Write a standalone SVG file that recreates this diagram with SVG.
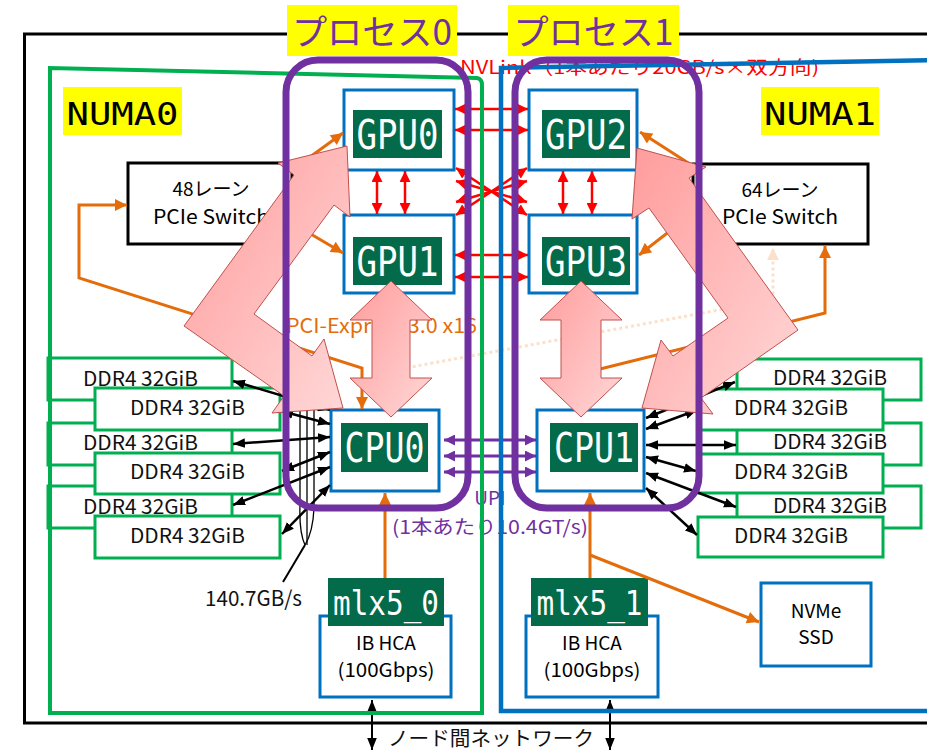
<svg xmlns="http://www.w3.org/2000/svg" width="927" height="752" viewBox="0 0 927 752">
<style>
.t{font-family:"Noto Sans CJK JP","Noto Sans",sans-serif}
.m{font-family:"DejaVu Sans Mono","Liberation Mono",monospace}
.box{fill:#fff;stroke:#0070c0;stroke-width:3}
.lbl{fill:#036b4a}
.lt{fill:#fff;text-anchor:middle;font-size:40px}
.ddr{fill:#fff;stroke:#00b050;stroke-width:3}
.dt{font-size:20px;fill:#111}
.sw{fill:#fff;stroke:#000;stroke-width:3}
.or{fill:none;stroke:#e46c0a;stroke-width:3}
.rd{fill:none;stroke:#f00;stroke-width:2.5;marker-start:url(#ar);marker-end:url(#ar)}
.bk{fill:none;stroke:#000;stroke-width:2.5;marker-start:url(#ab);marker-end:url(#ab)}
.pu{fill:none;stroke:#7030a0;stroke-width:3;marker-start:url(#ap);marker-end:url(#ap)}
.pink{fill:url(#pg);stroke:#c0504d;stroke-width:1}
.proc{fill:none;stroke:#7030a0;stroke-width:7}
.yl{fill:#ff0}
</style>
<defs>
<marker id="ar" viewBox="0 0 10 10" refX="10" refY="5" markerUnits="userSpaceOnUse" markerWidth="11" markerHeight="11" orient="auto-start-reverse"><path d="M0,0L10,5L0,10z" fill="#f00"/></marker>
<marker id="ab" viewBox="0 0 10 8" refX="10" refY="4" markerUnits="userSpaceOnUse" markerWidth="12" markerHeight="10" orient="auto-start-reverse"><path d="M0,0L10,4L0,8z" fill="#000"/></marker>
<marker id="ap" viewBox="0 0 10 10" refX="10" refY="5" markerUnits="userSpaceOnUse" markerWidth="12" markerHeight="11" orient="auto-start-reverse"><path d="M0,0L10,5L0,10z" fill="#7030a0"/></marker>
<marker id="ao" viewBox="0 0 10 10" refX="10" refY="5" markerUnits="userSpaceOnUse" markerWidth="13" markerHeight="12" orient="auto-start-reverse"><path d="M0,0L10,5L0,10z" fill="#e46c0a"/></marker>
<marker id="aq" viewBox="0 0 10 10" refX="10" refY="5" markerUnits="userSpaceOnUse" markerWidth="13" markerHeight="12" orient="auto-start-reverse"><path d="M0,0L10,5L0,10z" fill="#fbe0cc"/></marker>
<linearGradient id="pg" x1="0" y1="0" x2="1" y2="1"><stop offset="0" stop-color="#ff9c9c"/><stop offset="1" stop-color="#ffd8d8"/></linearGradient>
</defs>
<rect width="927" height="752" fill="#fff"/>
<g id="frame"><rect x="24.5" y="34" width="930" height="689" fill="none" stroke="#000" stroke-width="3"/></g>
<g id="nvlink-label"><text class="t" x="460" y="74" font-size="18" fill="#f00" textLength="359" lengthAdjust="spacingAndGlyphs">NVLink（1本あたり20GB/s×双方向)</text></g>

<g id="ddr-left">
<rect class="ddr" x="48" y="358" width="184" height="42"/><text class="t dt" x="83" y="386" textLength="115" lengthAdjust="spacingAndGlyphs">DDR4 32GiB</text>
<rect class="ddr" x="48" y="423" width="184" height="42"/><text class="t dt" x="83" y="450" textLength="115" lengthAdjust="spacingAndGlyphs">DDR4 32GiB</text>
<rect class="ddr" x="48" y="486" width="184" height="42"/><text class="t dt" x="83" y="514" textLength="115" lengthAdjust="spacingAndGlyphs">DDR4 32GiB</text>
<rect class="ddr" x="95" y="388" width="185" height="42"/><text class="t dt" x="130" y="415" textLength="115" lengthAdjust="spacingAndGlyphs">DDR4 32GiB</text>
<rect class="ddr" x="95" y="453" width="185" height="41"/><text class="t dt" x="130" y="479" textLength="115" lengthAdjust="spacingAndGlyphs">DDR4 32GiB</text>
<rect class="ddr" x="95" y="516" width="185" height="42"/><text class="t dt" x="130" y="543" textLength="115" lengthAdjust="spacingAndGlyphs">DDR4 32GiB</text>
</g>
<g id="ddr-right">
<rect class="ddr" x="737" y="359" width="184" height="41"/><text class="t dt" x="773" y="385" textLength="114" lengthAdjust="spacingAndGlyphs">DDR4 32GiB</text>
<rect class="ddr" x="737" y="423" width="184" height="42"/><text class="t dt" x="773" y="449" textLength="114" lengthAdjust="spacingAndGlyphs">DDR4 32GiB</text>
<rect class="ddr" x="737" y="486" width="184" height="42"/><text class="t dt" x="773" y="513" textLength="114" lengthAdjust="spacingAndGlyphs">DDR4 32GiB</text>
<rect class="ddr" x="698" y="389" width="185" height="41"/><text class="t dt" x="734" y="415" textLength="114" lengthAdjust="spacingAndGlyphs">DDR4 32GiB</text>
<rect class="ddr" x="698" y="454" width="185" height="39"/><text class="t dt" x="734" y="479" textLength="114" lengthAdjust="spacingAndGlyphs">DDR4 32GiB</text>
<rect class="ddr" x="698" y="517" width="185" height="40"/><text class="t dt" x="734" y="543" textLength="114" lengthAdjust="spacingAndGlyphs">DDR4 32GiB</text>
</g>

<g id="switch0"><rect class="sw" x="128" y="163" width="164" height="81"/>
<text class="t" x="211" y="196" font-size="19" text-anchor="middle">48レーン</text>
<text class="t" x="211" y="224" font-size="20" text-anchor="middle" textLength="116" lengthAdjust="spacingAndGlyphs">PCIe Switch</text></g>
<g id="switch1"><rect class="sw" x="693" y="164" width="175" height="80"/>
<text class="t" x="780" y="197" font-size="19" text-anchor="middle">64レーン</text>
<text class="t" x="780" y="224" font-size="20" text-anchor="middle" textLength="116" lengthAdjust="spacingAndGlyphs">PCIe Switch</text></g>

<g id="gpu0"><rect class="box" x="344" y="90" width="110" height="80"/><rect class="lbl" x="353" y="110" width="89" height="48"/><text class="m lt" x="397.5" y="148.5" textLength="82" lengthAdjust="spacingAndGlyphs">GPU0</text></g>
<g id="gpu1"><rect class="box" x="344" y="215" width="110" height="78"/><rect class="lbl" x="353" y="237" width="89" height="48"/><text class="m lt" x="397.5" y="275.5" textLength="82" lengthAdjust="spacingAndGlyphs">GPU1</text></g>
<g id="gpu2"><rect class="box" x="529" y="90" width="108" height="80"/><rect class="lbl" x="542" y="110" width="88" height="48"/><text class="m lt" x="586" y="148.5" textLength="82" lengthAdjust="spacingAndGlyphs">GPU2</text></g>
<g id="gpu3"><rect class="box" x="529" y="215" width="108" height="78"/><rect class="lbl" x="542" y="237" width="88" height="48"/><text class="m lt" x="586" y="275.5" textLength="82" lengthAdjust="spacingAndGlyphs">GPU3</text></g>
<g id="cpu0"><rect class="box" x="331" y="410" width="108" height="81"/><rect class="lbl" x="341" y="423" width="87" height="49"/><text class="m lt" x="384.5" y="462" textLength="80" lengthAdjust="spacingAndGlyphs">CPU0</text></g>
<g id="cpu1"><rect class="box" x="537" y="410" width="107" height="81"/><rect class="lbl" x="550" y="423" width="88" height="49"/><text class="m lt" x="594" y="462" textLength="80" lengthAdjust="spacingAndGlyphs">CPU1</text></g>
<g id="mlx5_0"><rect class="box" x="320" y="616" width="131" height="81"/><rect class="lbl" x="328" y="578" width="116" height="48"/><text class="m" x="386" y="615" font-size="34" fill="#fff" text-anchor="middle" textLength="106" lengthAdjust="spacingAndGlyphs">mlx5_0</text>
<text class="t" x="386" y="650" font-size="19" text-anchor="middle">IB HCA</text><text class="t" x="386" y="677" font-size="19" text-anchor="middle" textLength="97" lengthAdjust="spacingAndGlyphs">(100Gbps)</text></g>
<g id="mlx5_1"><rect class="box" x="526" y="616" width="132" height="81"/><rect class="lbl" x="531" y="578" width="117" height="48"/><text class="m" x="589.5" y="615" font-size="34" fill="#fff" text-anchor="middle" textLength="106" lengthAdjust="spacingAndGlyphs">mlx5_1</text>
<text class="t" x="592" y="650" font-size="19" text-anchor="middle">IB HCA</text><text class="t" x="592" y="677" font-size="19" text-anchor="middle" textLength="97" lengthAdjust="spacingAndGlyphs">(100Gbps)</text></g>
<g id="nvme"><rect class="box" x="761" y="583" width="110" height="83"/><text class="t" x="816" y="618" font-size="19" text-anchor="middle">NVMe</text><text class="t" x="816" y="644" font-size="19" text-anchor="middle">SSD</text></g>

<g id="labels">
<text class="t" x="286" y="333" font-size="20" fill="#e46c0a" textLength="191" lengthAdjust="spacingAndGlyphs">PCI-Express 3.0 x16</text>
<text class="t" x="490" y="505" font-size="19" fill="#7030a0" text-anchor="middle">UPI</text>
<text class="t" x="392" y="534" font-size="19" fill="#7030a0" textLength="196" lengthAdjust="spacingAndGlyphs">(1本あたり10.4GT/s)</text>
<text class="t" x="205" y="606" font-size="21" fill="#111" textLength="97" lengthAdjust="spacingAndGlyphs">140.7GB/s</text>
<text class="t" x="388" y="746" font-size="20" fill="#111" textLength="206" lengthAdjust="spacingAndGlyphs">ノード間ネットワーク</text>
</g>

<g id="connectors">
<path class="or" d="M362,409 L362,368 L79,278 L79,205 L127,205" marker-start="url(#ao)" marker-end="url(#ao)"/>
<path class="or" d="M292,170 L343,133" marker-end="url(#ao)"/>
<path class="or" d="M292,223 L343,253" marker-end="url(#ao)"/>
<path class="or" d="M693,166 L640,132" marker-end="url(#ao)"/>
<path class="or" d="M693,213 L639,255" marker-end="url(#ao)"/>
<path class="or" d="M588,372 L825,313 L825,246" marker-end="url(#ao)"/>
<path d="M395,370 L773,300 L773,248" fill="none" stroke="#fbe0cc" stroke-width="3" stroke-dasharray="3,3" marker-end="url(#aq)"/>
<path class="or" d="M385,578 L385,493" marker-end="url(#ao)"/>
<path class="or" d="M590,578 L590,493" marker-end="url(#ao)"/>
<path class="or" d="M590,555 L759,622" marker-end="url(#ao)"/>
<path class="rd" d="M455,109 L528,109"/>
<path class="rd" d="M455,130 L528,130"/>
<path class="rd" d="M455,255 L528,255"/>
<path class="rd" d="M455,277 L528,277"/>
<path class="rd" d="M377,171 L377,214"/>
<path class="rd" d="M405,171 L405,214"/>
<path class="rd" d="M563,171 L563,214"/>
<path class="rd" d="M592,171 L592,214"/>
<path class="rd" d="M456,168 L527,215"/>
<path class="rd" d="M456,215 L527,168"/>
<path class="rd" d="M456,181 L527,202"/>
<path class="rd" d="M456,202 L527,181"/>
<path class="pu" d="M444,440 L536,440"/>
<path class="pu" d="M444,456 L536,456"/>
<path class="pu" d="M444,472 L536,472"/>
<path class="bk" d="M233,381 L330,410"/>
<path class="bk" d="M281,411 L330,424"/>
<path class="bk" d="M233,444 L330,437"/>
<path class="bk" d="M282,471 L330,452"/>
<path class="bk" d="M233,505 L330,467"/>
<path class="bk" d="M282,534 L330,485"/>
<path class="bk" d="M646,418 L735,382"/>
<path class="bk" d="M646,429 L697,410"/>
<path class="bk" d="M646,445 L736,445"/>
<path class="bk" d="M646,457 L696,471"/>
<path class="bk" d="M646,473 L736,507"/>
<path class="bk" d="M646,488 L697,535"/>
<g fill="none" stroke="#000" stroke-width="1.3">
<path d="M300,395 L300,505 Q299,532 305,545"/>
<path d="M307,395 L307,545"/>
<path d="M314,395 L314,508 Q313,532 305,545"/>
<path d="M305,545 L283,582" stroke-width="2"/>
</g>
<path d="M372,700 L372,750" fill="none" stroke="#000" stroke-width="2" marker-start="url(#ab)" marker-end="url(#ab)"/>
<path d="M610,700 L610,750" fill="none" stroke="#000" stroke-width="2" marker-start="url(#ab)" marker-end="url(#ab)"/>
</g>

<g id="numa0">
<path d="M50,713 L50,68 L477,78 Q482,79 482,85 L482,713 Z" fill="none" stroke="#00b050" stroke-width="4"/>
<rect class="yl" x="63" y="87" width="119" height="48"/>
<text class="m" x="122.5" y="125" font-size="32" text-anchor="middle" textLength="112" lengthAdjust="spacingAndGlyphs">NUMA0</text>
</g>
<g id="numa1">
<path d="M940,711 L501,711 L501,68 L940,60" fill="none" stroke="#0070c0" stroke-width="4.5"/>
<rect class="yl" x="761" y="87" width="118" height="48"/>
<text class="m" x="820" y="125" font-size="32" text-anchor="middle" textLength="112" lengthAdjust="spacingAndGlyphs">NUMA1</text>
</g>

<g id="pcie-flows">
<path class="pink" d="M347,146 L350,217 L334,205 L254,314 L312,356 L324,339 L343,408 L272,413 L284,396 L184,326 L294,175 L278,163 Z"/>
<path class="pink" d="M637,148 L706,167 L689,178 L798,330 L701,398 L713,414 L642,408 L661,340 L673,356 L728,318 L649,208 L632,219 Z"/>
<path class="pink" d="M391,281 L432,320 L410,320 L410,378 L432,378 L391,417 L350,378 L372,378 L372,320 L350,320 Z"/>
<path class="pink" d="M581,281 L622,320 L601,320 L601,378 L622,378 L581,417 L540,378 L561,378 L561,320 L540,320 Z"/>
</g>

<g id="process0">
<rect class="proc" x="286" y="60" width="182" height="448" rx="32"/>
<rect class="yl" x="287" y="5" width="170" height="51"/>
<text class="t" x="372" y="45" font-size="35" fill="#7030a0" text-anchor="middle" textLength="160" lengthAdjust="spacingAndGlyphs">プロセス0</text>
</g>
<g id="process1">
<rect class="proc" x="515" y="60" width="184" height="448" rx="32"/>
<rect class="yl" x="508" y="5" width="171" height="51"/>
<text class="t" x="593.5" y="45" font-size="35" fill="#7030a0" text-anchor="middle" textLength="160" lengthAdjust="spacingAndGlyphs">プロセス1</text>
</g>
</svg>
